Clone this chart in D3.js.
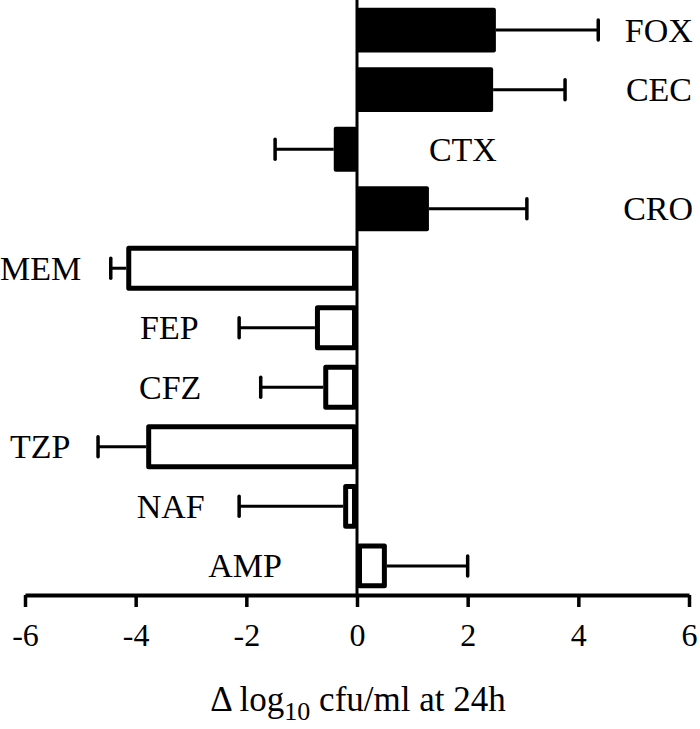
<!DOCTYPE html>
<html>
<head>
<meta charset="utf-8">
<script src="https://cdn.jsdelivr.net/npm/d3@7"></script>
<style>
    body { margin: 0; background: #fff; }
    text { font-family: "Liberation Serif", "Times New Roman", serif; fill: #000; }
</style>
</head>
<body>
<div id="grafico"></div>
<script>
let antibioticos = ["FOX", "CEC", "CTX", "CRO", "MEM", "FEP", "CFZ", "TZP", "NAF", "AMP"];
let valores = [2.51, 2.46, -0.42, 1.30, -4.17, -0.76, -0.61, -3.81, -0.25, 0.54];
let errores = [1.85, 1.30, 1.06, 1.77, 0.28, 1.37, 1.13, 0.87, 1.88, 1.46];
let rellenos = [true, true, true, true, false, false, false, false, false, false];
// where each label starts, in axis units
let posEtiquetas = [4.84, 4.86, 1.30, 4.81, -6.45, -3.92, -3.94, -6.27, -3.98, -2.69];
let ticksX = [-6, -4, -2, 0, 2, 4, 6];

let width = 700, height = 729;

let svg = d3.select("#grafico")
    .append("svg")
    .attr("width", width)
    .attr("height", height);

let x = d3.scaleLinear()
    .domain([-6, 6])
    .range([25, 689]);

let y = d3.scaleBand()
    .domain(antibioticos)
    .range([0.5, 595.5])
    .paddingInner(0.245)
    .paddingOuter(0.12);

let datos = antibioticos.map(function (d, i) {
    return {nombre: d, valor: valores[i], error: errores[i], relleno: rellenos[i], etiqueta: posEtiquetas[i]};
});

// Barras rellenas
svg.selectAll("rect.lleno")
    .data(datos.filter(function (d) { return d.relleno; }))
    .enter()
    .append("rect")
    .attr("class", "lleno")
    .attr("x", function (d) { return x(Math.min(0, d.valor)); })
    .attr("y", function (d) { return y(d.nombre); })
    .attr("width", function (d) { return Math.abs(x(d.valor) - x(0)); })
    .attr("height", y.bandwidth())
    .attr("rx", 2)
    .attr("fill", "#000");

// Barras vacias (borde grueso)
let grosor = 5;
svg.selectAll("rect.vacio")
    .data(datos.filter(function (d) { return !d.relleno; }))
    .enter()
    .append("rect")
    .attr("class", "vacio")
    .attr("x", function (d) { return x(Math.min(0, d.valor)) + grosor / 2; })
    .attr("y", function (d) { return y(d.nombre) + grosor / 2; })
    .attr("width", function (d) { return Math.abs(x(d.valor) - x(0)) - grosor; })
    .attr("height", y.bandwidth() - grosor)
    .attr("fill", "#fff")
    .attr("stroke", "#000")
    .attr("stroke-width", grosor)
    .attr("stroke-linejoin", "round");

// Barras de error
let extremo = function (d) {
    return d.valor < 0 ? d.valor - d.error : d.valor + d.error;
};

svg.selectAll("line.error")
    .data(datos)
    .enter()
    .append("line")
    .attr("class", "error")
    .attr("x1", function (d) { return x(d.valor); })
    .attr("x2", function (d) { return x(extremo(d)); })
    .attr("y1", function (d) { return y(d.nombre) + y.bandwidth() / 2; })
    .attr("y2", function (d) { return y(d.nombre) + y.bandwidth() / 2; })
    .attr("stroke", "#000")
    .attr("stroke-width", 3);

svg.selectAll("line.tope")
    .data(datos)
    .enter()
    .append("line")
    .attr("class", "tope")
    .attr("x1", function (d) { return x(extremo(d)); })
    .attr("x2", function (d) { return x(extremo(d)); })
    .attr("y1", function (d) { return y(d.nombre) + y.bandwidth() / 2 - 10; })
    .attr("y2", function (d) { return y(d.nombre) + y.bandwidth() / 2 + 10; })
    .attr("stroke", "#000")
    .attr("stroke-width", 3.5)
    .attr("stroke-linecap", "round");

// Eje vertical en cero
svg.append("line")
    .attr("x1", x(0))
    .attr("x2", x(0))
    .attr("y1", 0)
    .attr("y2", 595)
    .attr("stroke", "#000")
    .attr("stroke-width", 3);

// Eje X
let ejeX = svg.append("g")
    .attr("transform", "translate(0,595)")
    .call(d3.axisBottom(x)
        .tickValues(ticksX)
        .tickFormat(function (d) { return String(d); })
        .tickSize(12)
        .tickSizeOuter(0)
        .tickPadding(16));

ejeX.select(".domain")
    .attr("stroke-width", 4);
ejeX.selectAll(".tick line")
    .attr("stroke-width", 3.5);
ejeX.selectAll(".tick text")
    .style("font-family", "'Liberation Serif', serif")
    .style("font-size", "32px")
    .attr("fill", "#000");

// Etiquetas de los antibioticos
svg.selectAll("text.etiqueta")
    .data(datos)
    .enter()
    .append("text")
    .attr("class", "etiqueta")
    .attr("x", function (d) { return x(d.etiqueta); })
    .attr("y", function (d) { return y(d.nombre) + y.bandwidth() / 2; })
    .attr("dy", "0.34em")
    .attr("text-anchor", "start")
    .style("font-size", "34px")
    .text(function (d) { return d.nombre; });

// Etiqueta eje X
let titulo = svg.append("text")
    .attr("x", 358)
    .attr("y", 711)
    .attr("text-anchor", "middle")
    .style("font-size", "35px");
titulo.append("tspan").text("\u0394 log");
titulo.append("tspan")
    .attr("dy", 9)
    .style("font-size", "26px")
    .text("10");
titulo.append("tspan")
    .attr("dy", -9)
    .text(" cfu/ml at 24h");
</script>
</body>
</html>
